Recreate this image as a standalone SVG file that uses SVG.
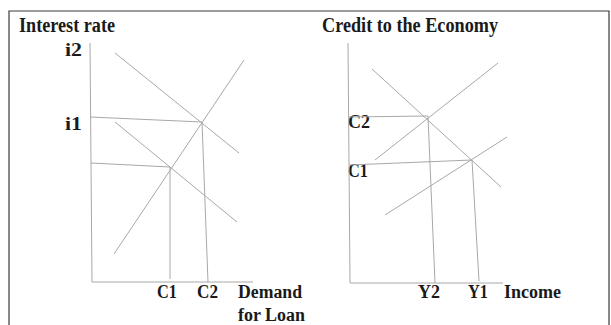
<svg xmlns="http://www.w3.org/2000/svg" width="611" height="325" viewBox="0 0 611 325">
<style>
.frame{stroke:#3a3a3a;stroke-width:1.2;fill:none}
.ln{stroke:#a8a8a8;stroke-width:1;fill:none}
.t{font-family:"Liberation Serif","Times New Roman",serif;font-weight:bold;fill:#1a1a1a}
.title{font-size:20px}
.lab{font-size:18px}
</style>
<rect width="611" height="325" fill="#fff"/>
<g id="frame">
<path class="frame" d="M9,325 L9,11 L609,11 L609,325"/>
</g>
<g id="left-chart">
<text class="t title" x="19" y="32" textLength="96" lengthAdjust="spacingAndGlyphs">Interest rate</text>
<text class="t lab" x="65" y="56" textLength="17" lengthAdjust="spacingAndGlyphs">i2</text>
<text class="t lab" x="65" y="130" textLength="17" lengthAdjust="spacingAndGlyphs">i1</text>
<text class="t lab" x="157" y="298" textLength="20" lengthAdjust="spacingAndGlyphs">C1</text>
<text class="t lab" x="197" y="298" textLength="21" lengthAdjust="spacingAndGlyphs">C2</text>
<text class="t lab" x="238" y="298" textLength="64" lengthAdjust="spacingAndGlyphs">Demand</text>
<text class="t lab" x="238" y="321" textLength="67" lengthAdjust="spacingAndGlyphs">for Loan</text>
</g>
<g id="right-chart">
<text class="t title" x="322" y="32" textLength="176" lengthAdjust="spacingAndGlyphs">Credit to the Economy</text>
<text class="t lab" x="348" y="128" textLength="22" lengthAdjust="spacingAndGlyphs">C2</text>
<text class="t lab" x="348" y="177" textLength="20" lengthAdjust="spacingAndGlyphs">C1</text>
<text class="t lab" x="418" y="298" textLength="22" lengthAdjust="spacingAndGlyphs">Y2</text>
<text class="t lab" x="468" y="298" textLength="20" lengthAdjust="spacingAndGlyphs">Y1</text>
<text class="t lab" x="504" y="298" textLength="57" lengthAdjust="spacingAndGlyphs">Income</text>
</g>
<g id="connectors">
<path class="ln" d="M90,43 L92,282 L253,282"/>
<line class="ln" x1="115" y1="53" x2="239" y2="153"/>
<line class="ln" x1="244" y1="60" x2="114" y2="254"/>
<line class="ln" x1="115" y1="122" x2="237" y2="222"/>
<line class="ln" x1="90" y1="117" x2="202" y2="122"/>
<line class="ln" x1="202" y1="122" x2="208" y2="282"/>
<line class="ln" x1="91" y1="163" x2="170" y2="167"/>
<line class="ln" x1="170" y1="167" x2="170" y2="279"/>
<path class="ln" d="M348,43 L350,283 L503,283"/>
<line class="ln" x1="372" y1="69" x2="501" y2="187"/>
<line class="ln" x1="498" y1="63" x2="375" y2="160"/>
<line class="ln" x1="507" y1="137" x2="385" y2="215"/>
<line class="ln" x1="349" y1="117" x2="428" y2="116"/>
<line class="ln" x1="349" y1="165" x2="472" y2="160"/>
<line class="ln" x1="428" y1="116" x2="435" y2="283"/>
<line class="ln" x1="472" y1="160" x2="479" y2="281"/>
</g>
</svg>
